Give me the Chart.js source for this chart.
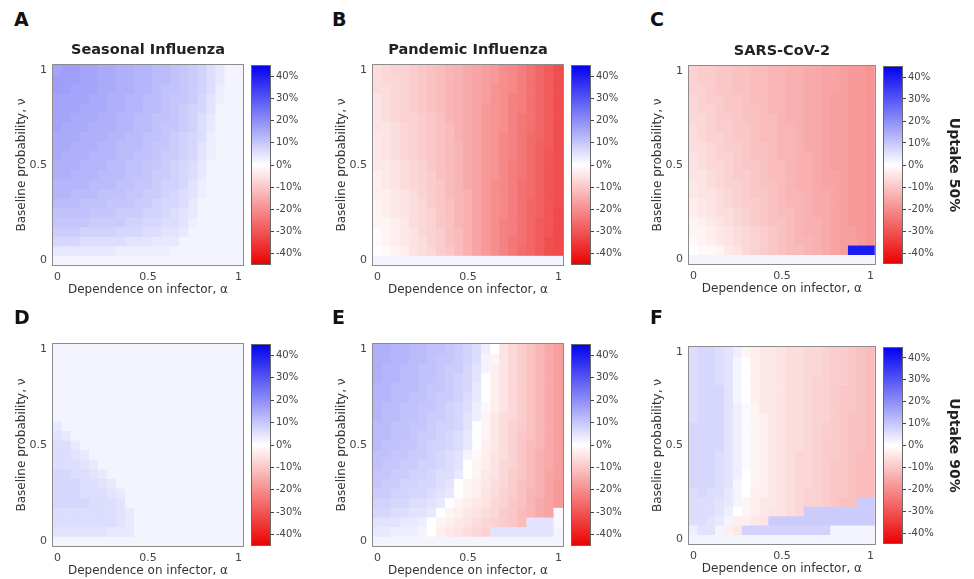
<!DOCTYPE html>
<html>
<head>
<meta charset="utf-8">
<script src="https://cdn.jsdelivr.net/npm/chart.js@4.4.1/dist/chart.umd.min.js"></script>
<style>
  body { margin: 0; background: #fff; }
  #fig { position: relative; width: 974px; height: 579px; font-family: 'DejaVu Sans', sans-serif; }
  #fig canvas { position: absolute; }
  .tag { position: absolute; font-weight: bold; font-size: 19px; line-height: 1; color: #111; }
</style>
</head>
<body>
<div id="fig"></div>
<script>
// Grid axes: dependence on infector (columns) and baseline probability (rows, top row first)
const alpha = [0, 0.05, 0.1, 0.15, 0.2, 0.25, 0.3, 0.35, 0.4, 0.45, 0.5, 0.55, 0.6, 0.65, 0.7, 0.75, 0.8, 0.85, 0.9, 0.95, 1];
const nu = [1, 0.95, 0.9, 0.85, 0.8, 0.75, 0.7, 0.65, 0.6, 0.55, 0.5, 0.45, 0.4, 0.35, 0.3, 0.25, 0.2, 0.15, 0.1, 0.05, 0];
const xTickValues = [0, 0.5, 1];
const yTickValues = [0, 0.5, 1];
const cbTicks = [-40, -30, -20, -10, 0, 10, 20, 30, 40];
const cbRange = [-45, 45];

// Change in outcome (%), rows from nu = 1 down to nu = 0
const seasonal50 = [
  [16,17,17,16,16,15,15,14,14,13,13,12,12,11,10, 9, 8, 6, 4, 2, 2],
  [17,17,17,16,16,15,15,14,14,13,13,12,12,11,10, 9, 8, 6, 4, 2, 2],
  [17,17,16,16,16,15,15,14,14,13,13,12,11,11,10, 9, 8, 6, 3, 2, 2],
  [16,16,16,16,15,15,14,14,13,13,12,12,11,10,10, 9, 7, 5, 3, 2, 2],
  [16,16,16,15,15,15,14,14,13,13,12,12,11,10, 9, 8, 7, 5, 2, 2, 2],
  [16,16,15,15,15,14,14,13,13,12,12,11,11,10, 9, 8, 6, 4, 2, 2, 2],
  [16,15,15,15,14,14,14,13,13,12,12,11,10,10, 9, 8, 6, 4, 2, 2, 2],
  [15,15,15,14,14,14,13,13,12,12,11,11,10, 9, 8, 7, 6, 3, 2, 2, 2],
  [15,15,14,14,14,13,13,12,12,12,11,10,10, 9, 8, 7, 5, 3, 2, 2, 2],
  [15,14,14,14,13,13,13,12,12,11,11,10, 9, 9, 8, 7, 5, 3, 2, 2, 2],
  [14,14,14,13,13,13,12,12,11,11,10,10, 9, 8, 7, 6, 4, 2, 2, 2, 2],
  [14,14,13,13,13,12,12,12,11,11,10, 9, 9, 8, 7, 6, 4, 2, 2, 2, 2],
  [13,13,13,13,12,12,12,11,11,10,10, 9, 8, 8, 7, 5, 3, 2, 2, 2, 2],
  [13,13,12,12,12,11,11,11,10,10, 9, 9, 8, 7, 6, 5, 3, 2, 2, 2, 2],
  [12,12,12,11,11,11,10,10,10, 9, 9, 8, 7, 7, 6, 4, 2, 2, 2, 2, 2],
  [11,11,11,11,10,10,10, 9, 9, 9, 8, 8, 7, 6, 5, 4, 2, 2, 2, 2, 2],
  [10,10,10,10, 9, 9, 9, 9, 8, 8, 7, 7, 6, 6, 5, 3, 2, 2, 2, 2, 2],
  [ 9, 9, 9, 8, 8, 8, 8, 7, 7, 7, 6, 6, 5, 5, 4, 2, 2, 2, 2, 2, 2],
  [ 7, 7, 7, 6, 6, 6, 6, 6, 5, 5, 5, 4, 4, 4, 2, 2, 2, 2, 2, 2, 2],
  [ 4, 4, 4, 4, 4, 4, 4, 3, 3, 3, 3, 3, 3, 2, 2, 2, 2, 2, 2, 2, 2],
  [ 2, 2, 2, 2, 2, 2, 2, 2, 2, 2, 2, 2, 2, 2, 2, 2, 2, 2, 2, 2, 2]
];
const pandemic50 = [
  [-6,-7,-8,-8,-9,-10,-11,-12,-13,-14,-15,-16,-17,-18,-20,-21,-23,-25,-27,-29,-31],
  [-6,-7,-7,-8,-9,-10,-11,-12,-13,-14,-15,-16,-17,-18,-20,-21,-23,-25,-27,-29,-31],
  [-6,-6,-7,-8,-9,-10,-11,-12,-13,-14,-15,-16,-17,-19,-20,-21,-23,-25,-27,-29,-31],
  [-5,-6,-7,-8,-9,-10,-11,-12,-13,-14,-15,-16,-17,-19,-20,-22,-23,-25,-27,-29,-31],
  [-5,-6,-7,-8,-9,-10,-11,-12,-13,-14,-15,-16,-18,-19,-20,-22,-23,-25,-27,-29,-31],
  [-5,-6,-7,-8,-8,-9,-10,-11,-13,-14,-15,-16,-18,-19,-20,-22,-24,-25,-27,-29,-31],
  [-5,-5,-6,-7,-8,-9,-10,-11,-12,-14,-15,-16,-18,-19,-20,-22,-24,-25,-27,-29,-31],
  [-4,-5,-6,-7,-8,-9,-10,-11,-12,-14,-15,-16,-18,-19,-21,-22,-24,-26,-27,-29,-31],
  [-4,-5,-6,-7,-8,-9,-10,-11,-12,-13,-15,-16,-18,-19,-21,-22,-24,-26,-28,-29,-31],
  [-4,-5,-6,-7,-8,-9,-10,-11,-12,-13,-15,-16,-18,-19,-21,-22,-24,-26,-28,-30,-31],
  [-4,-4,-5,-6,-7,-8,-10,-11,-12,-13,-15,-16,-18,-19,-21,-23,-24,-26,-28,-30,-31],
  [-3,-4,-5,-6,-7,-8,-9,-11,-12,-13,-15,-16,-18,-19,-21,-23,-24,-26,-28,-30,-31],
  [-3,-4,-5,-6,-7,-8,-9,-10,-12,-13,-15,-16,-18,-20,-21,-23,-25,-26,-28,-30,-31],
  [-3,-3,-4,-5,-6,-8,-9,-10,-12,-13,-14,-16,-18,-20,-21,-23,-25,-26,-28,-30,-31],
  [-2,-3,-4,-5,-6,-7,-9,-10,-11,-13,-14,-16,-18,-20,-21,-23,-25,-27,-28,-30,-31],
  [-2,-3,-4,-5,-6,-7,-8,-10,-11,-13,-14,-16,-18,-20,-21,-23,-25,-27,-28,-30,-32],
  [-2,-2,-3,-4,-6,-7,-8,-10,-11,-13,-14,-16,-18,-20,-22,-23,-25,-27,-29,-30,-32],
  [-1,-2,-3,-4,-5,-7,-8,-9,-11,-12,-14,-16,-18,-20,-22,-23,-25,-27,-29,-30,-32],
  [-1,-2,-3,-4,-5,-6,-8,-9,-11,-12,-14,-16,-18,-20,-22,-24,-25,-27,-29,-31,-32],
  [ 0,-1,-2,-3,-5,-6,-7,-9,-10,-12,-14,-16,-18,-20,-22,-24,-26,-27,-29,-31,-32],
  [ 2, 2, 2, 2, 2, 2, 2, 2, 2, 2, 2, 2, 2, 2, 2, 2, 2, 2, 2, 2, 2]
];
const sars50 = [
  [-8,-9,-9,-10,-10,-11,-11,-12,-12,-13,-13,-14,-14,-15,-15,-16,-16,-17,-18,-18,-19],
  [-8,-9,-9,-10,-10,-11,-11,-12,-12,-13,-13,-14,-14,-15,-15,-16,-16,-17,-18,-18,-19],
  [-8,-8,-9,-10,-10,-11,-11,-12,-12,-13,-13,-14,-14,-15,-15,-16,-16,-17,-18,-18,-19],
  [-7,-8,-9,-9,-10,-10,-11,-12,-12,-13,-13,-14,-14,-15,-15,-16,-17,-17,-18,-18,-19],
  [-7,-8,-8,-9,-10,-10,-11,-11,-12,-13,-13,-14,-14,-15,-15,-16,-17,-17,-18,-18,-19],
  [-7,-7,-8,-9,-9,-10,-11,-11,-12,-12,-13,-14,-14,-15,-15,-16,-17,-17,-18,-18,-19],
  [-6,-7,-8,-9,-9,-10,-10,-11,-12,-12,-13,-13,-14,-15,-15,-16,-17,-17,-18,-18,-19],
  [-6,-7,-8,-8,-9,-10,-10,-11,-12,-12,-13,-13,-14,-15,-15,-16,-17,-17,-18,-18,-19],
  [-6,-6,-7,-8,-9,-9,-10,-11,-11,-12,-13,-13,-14,-15,-15,-16,-17,-17,-18,-18,-19],
  [-5,-6,-7,-8,-8,-9,-10,-11,-11,-12,-13,-13,-14,-14,-15,-16,-17,-17,-18,-18,-19],
  [-5,-6,-7,-7,-8,-9,-10,-10,-11,-12,-12,-13,-14,-14,-15,-16,-17,-17,-18,-18,-19],
  [-5,-5,-6,-7,-8,-9,-9,-10,-11,-12,-12,-13,-14,-14,-15,-16,-16,-17,-18,-18,-19],
  [-4,-5,-6,-7,-8,-8,-9,-10,-11,-11,-12,-13,-14,-14,-15,-16,-16,-17,-18,-18,-19],
  [-4,-5,-5,-6,-7,-8,-9,-10,-10,-11,-12,-13,-13,-14,-15,-15,-16,-17,-18,-18,-19],
  [-3,-4,-5,-6,-7,-8,-9,-9,-10,-11,-12,-13,-13,-14,-15,-15,-16,-17,-18,-18,-19],
  [-3,-4,-5,-6,-6,-7,-8,-9,-10,-11,-12,-12,-13,-14,-15,-15,-16,-17,-18,-18,-19],
  [-2,-3,-4,-5,-6,-7,-8,-9,-10,-11,-11,-12,-13,-14,-14,-15,-16,-17,-18,-18,-19],
  [-2,-2,-3,-4,-5,-6,-7,-8,-9,-10,-11,-12,-13,-14,-14,-15,-16,-17,-17,-18,-19],
  [-1,-2,-3,-4,-5,-6,-7,-8,-9,-10,-11,-12,-13,-13,-14,-15,-16,-17,-17,-18,-19],
  [ 0,-1,-1,-2,-4,-5,-7,-8,-9,-10,-11,-12,-12,-13,-14,-15,-16,-17, 40, 40, 40],
  [ 2, 2, 2, 2, 2, 2, 2, 2, 2, 2, 2, 2, 2, 2, 2, 2, 2, 2, 2, 2, 2]
];
const seasonal90 = [
  [2,2,2,2,2,2,2,2,2,2,2,2,2,2,2,2,2,2,2,2,2],
  [2,2,2,2,2,2,2,2,2,2,2,2,2,2,2,2,2,2,2,2,2],
  [2,2,2,2,2,2,2,2,2,2,2,2,2,2,2,2,2,2,2,2,2],
  [2,2,2,2,2,2,2,2,2,2,2,2,2,2,2,2,2,2,2,2,2],
  [2,2,2,2,2,2,2,2,2,2,2,2,2,2,2,2,2,2,2,2,2],
  [2,2,2,2,2,2,2,2,2,2,2,2,2,2,2,2,2,2,2,2,2],
  [2,2,2,2,2,2,2,2,2,2,2,2,2,2,2,2,2,2,2,2,2],
  [2,2,2,2,2,2,2,2,2,2,2,2,2,2,2,2,2,2,2,2,2],
  [4,2,2,2,2,2,2,2,2,2,2,2,2,2,2,2,2,2,2,2,2],
  [5,4,2,2,2,2,2,2,2,2,2,2,2,2,2,2,2,2,2,2,2],
  [6,6,4,2,2,2,2,2,2,2,2,2,2,2,2,2,2,2,2,2,2],
  [6,6,5,4,2,2,2,2,2,2,2,2,2,2,2,2,2,2,2,2,2],
  [6,6,6,5,4,2,2,2,2,2,2,2,2,2,2,2,2,2,2,2,2],
  [7,7,6,6,5,4,2,2,2,2,2,2,2,2,2,2,2,2,2,2,2],
  [7,7,7,6,6,5,4,2,2,2,2,2,2,2,2,2,2,2,2,2,2],
  [7,7,7,6,6,6,5,4,2,2,2,2,2,2,2,2,2,2,2,2,2],
  [7,7,7,7,6,6,6,5,2,2,2,2,2,2,2,2,2,2,2,2,2],
  [6,6,6,6,6,6,6,5,4,2,2,2,2,2,2,2,2,2,2,2,2],
  [6,6,6,6,6,6,6,5,4,2,2,2,2,2,2,2,2,2,2,2,2],
  [5,5,5,5,5,5,4,4,4,2,2,2,2,2,2,2,2,2,2,2,2],
  [2,2,2,2,2,2,2,2,2,2,2,2,2,2,2,2,2,2,2,2,2]
];
const pandemic90 = [
  [14,14,13,13,12,12,11,11,10, 9, 8, 6, 3, 0,-5,-7,-9,-11,-13,-15,-17],
  [14,14,13,13,12,12,11,10,10, 9, 8, 6, 2,-2,-5,-7,-9,-11,-13,-15,-17],
  [14,13,13,12,12,11,11,10, 9, 9, 7, 5, 2,-3,-5,-7,-9,-11,-13,-15,-17],
  [14,13,13,12,12,11,11,10, 9, 8, 7, 5, 0,-3,-5,-7,-9,-11,-13,-15,-17],
  [13,13,12,12,12,11,10,10, 9, 8, 7, 4, 0,-3,-5,-7,-9,-11,-13,-15,-17],
  [13,13,12,12,11,11,10, 9, 9, 8, 6, 4, 0,-3,-5,-7,-9,-11,-13,-15,-17],
  [13,12,12,11,11,10,10, 9, 8, 7, 6, 3, 1,-3,-5,-7,-9,-11,-13,-15,-17],
  [13,12,12,11,11,10, 9, 9, 8, 7, 5, 3,-2,-4,-6,-7,-9,-11,-13,-15,-17],
  [12,12,11,11,10,10, 9, 8, 8, 7, 5, 0,-2,-4,-6,-8,-9,-11,-13,-15,-17],
  [12,12,11,11,10, 9, 9, 8, 7, 6, 4, 0,-2,-4,-6,-8,-10,-11,-13,-15,-17],
  [12,11,11,10,10, 9, 8, 8, 7, 6, 4, 0,-3,-4,-6,-8,-10,-12,-13,-15,-17],
  [11,11,10,10, 9, 9, 8, 7, 6, 5, 2,-1,-3,-5,-6,-8,-10,-12,-14,-15,-17],
  [11,10,10, 9, 9, 8, 8, 7, 6, 5, 0,-2,-3,-5,-7,-8,-10,-12,-14,-15,-17],
  [10,10, 9, 9, 8, 8, 7, 6, 6, 4, 0,-2,-4,-5,-7,-9,-10,-12,-14,-16,-17],
  [10, 9, 9, 8, 8, 7, 7, 6, 5, 0,-2,-3,-4,-6,-7,-9,-11,-12,-14,-16,-18],
  [ 9, 9, 8, 8, 7, 7, 6, 5, 4, 0,-2,-3,-5,-6,-8,-9,-11,-13,-14,-16,-18],
  [ 8, 8, 7, 7, 6, 6, 5, 4, 0,-2,-3,-4,-5,-7,-8,-10,-11,-13,-15,-16,-18],
  [ 7, 7, 6, 6, 5, 5, 4, 0,-2,-3,-4,-5,-6,-7,-9,-10,-12,-13,-15,-16, 1],
  [ 5, 5, 5, 4, 4, 3, 0,-2,-3,-4,-5,-6,-7,-8,-9,-10,-12, 5, 5, 5, 1],
  [ 4, 4, 3, 3, 3, 2, 0,-3,-4,-5,-6,-7,-8, 5, 5, 5, 5, 5, 5, 5, 2],
  [ 2, 2, 2, 2, 2, 2, 2, 2, 2, 2, 2, 2, 2, 2, 2, 2, 2, 2, 2, 2, 2]
];
const sars90 = [
  [6,7,7,6,5,3,-2,-3,-4,-4,-5,-6,-6,-7,-7,-8,-9,-9,-10,-11,-12],
  [6,7,7,6,5,2, 0,-3,-4,-4,-5,-6,-6,-7,-7,-8,-9,-9,-10,-11,-12],
  [6,7,7,6,5,2, 0,-3,-4,-4,-5,-6,-6,-7,-7,-8,-9,-9,-10,-11,-12],
  [6,7,7,6,5,2, 0,-3,-4,-4,-5,-6,-6,-7,-8,-8,-9,-9,-10,-11,-12],
  [6,7,7,7,5,2, 0,-3,-4,-4,-5,-6,-6,-7,-8,-8,-9,-10,-10,-11,-12],
  [6,7,7,7,5,2, 0,-3,-4,-4,-5,-6,-6,-7,-8,-8,-9,-10,-10,-11,-12],
  [6,7,7,7,5,3, 1,-2,-4,-4,-5,-6,-6,-7,-8,-8,-9,-10,-10,-11,-12],
  [6,7,7,7,5,3, 1,-2,-3,-4,-5,-6,-6,-7,-8,-8,-9,-10,-11,-11,-12],
  [7,7,7,7,5,3, 1,-2,-3,-4,-5,-6,-6,-7,-8,-9,-9,-10,-11,-11,-12],
  [7,7,7,7,5,3, 1,-2,-3,-4,-5,-6,-6,-7,-8,-9,-9,-10,-11,-11,-12],
  [7,7,7,7,5,3, 1,-2,-3,-4,-5,-6,-6,-7,-8,-9,-9,-10,-11,-11,-12],
  [7,7,7,6,5,3, 1,-2,-3,-4,-5,-6,-7,-7,-8,-9,-9,-10,-11,-12,-12],
  [7,7,7,6,5,3, 1,-2,-3,-4,-5,-6,-7,-7,-8,-9,-10,-10,-11,-12,-12],
  [7,7,7,6,5,3, 0,-2,-3,-4,-5,-6,-7,-7,-8,-9,-10,-10,-11,-12,-12],
  [7,7,7,6,5,2, 0,-2,-3,-4,-5,-6,-7,-7,-8,-9,-10,-10,-11,-12,-12],
  [6,7,6,6,4,2, 0,-3,-3,-4,-5,-6,-7,-8,-8,-9,-10,-10,-11,-12,-12],
  [6,6,6,5,4,2,-2,-3,-4,-4,-5,-6,-7,-8,-8,-9,-10,-11,-11, 9, 9],
  [6,6,6,5,3,0,-2,-3,-4,-5,-5,-6,-7, 9, 9, 9, 9, 9, 9, 9, 9],
  [6,6,5,4,2,-3,-3,-4,-5, 9, 9, 9, 9, 9, 9, 9, 9, 9, 9, 9, 9],
  [3,5,5,2,-3,-4, 8, 8, 8, 8, 8, 8, 8, 8, 8, 8, 2, 2, 2, 2, 2],
  [2,2,2,2,2,2, 2, 2, 2, 2, 2, 2, 2, 2, 2, 2, 2, 2, 2, 2, 2]
];

// Panel placement (plot box, colour bar left edge)
const panels = [
  { tag: 'A', title: 'Seasonal Influenza', grid: seasonal50, x: 53,  y: 65,  w: 191, h: 200, cbX: 251 },
  { tag: 'B', title: 'Pandemic Influenza', grid: pandemic50, x: 373, y: 65,  w: 191, h: 200, cbX: 571 },
  { tag: 'C', title: 'SARS-CoV-2',         grid: sars50,     x: 689, y: 66,  w: 187, h: 198, cbX: 883, side: 'Uptake 50%' },
  { tag: 'D', grid: seasonal90, x: 53,  y: 344, w: 191, h: 202, cbX: 251 },
  { tag: 'E', grid: pandemic90, x: 373, y: 344, w: 191, h: 202, cbX: 571 },
  { tag: 'F', grid: sars90,     x: 689, y: 347, w: 187, h: 197, cbX: 883, side: 'Uptake 90%' }
];
const tagPos = { A: [14, 10], B: [332, 10], C: [650, 10], D: [14, 308], E: [332, 308], F: [650, 308] };

Chart.defaults.font.family = "'DejaVu Sans', sans-serif";
Chart.defaults.color = '#333';

const fig = document.getElementById('fig');

function addCanvas(left, top, w, h) {
  const c = document.createElement('canvas');
  c.width = w;
  c.height = h;
  c.style.left = left + 'px';
  c.style.top = top + 'px';
  c.style.width = w + 'px';
  c.style.height = h + 'px';
  fig.appendChild(c);
  return c;
}

// white -> blue for gains, white -> red for losses
function cellColor(v) {
  const t = Math.min(Math.abs(v) / cbRange[1], 1);
  const fade = Math.round(255 * (1 - t));
  if (v >= 0) return `rgb(${fade},${fade},${Math.round(255 - 15 * t)})`;
  return `rgb(${Math.round(255 - 20 * t)},${fade},${fade})`;
}

const frame = {
  id: 'frame',
  afterDatasetsDraw(chart) {
    const { ctx, chartArea: a } = chart;
    ctx.save();
    ctx.strokeStyle = '#8c8c8c';
    ctx.lineWidth = 1;
    ctx.strokeRect(Math.round(a.left) - 0.5, Math.round(a.top) - 0.5, Math.round(a.width) + 1, Math.round(a.height) + 1);
    ctx.restore();
  }
};

const gradientBar = {
  id: 'gradientBar',
  beforeDraw(chart) {
    const { ctx, chartArea: a, scales: { y } } = chart;
    const top = y.getPixelForValue(cbRange[1]);
    const bottom = y.getPixelForValue(cbRange[0]);
    const g = ctx.createLinearGradient(0, top, 0, bottom);
    g.addColorStop(0, cellColor(cbRange[1]));
    g.addColorStop(0.5, cellColor(0));
    g.addColorStop(1, cellColor(cbRange[0]));
    ctx.save();
    ctx.fillStyle = g;
    ctx.fillRect(a.left, a.top, a.width, a.height);
    ctx.strokeStyle = '#666';
    ctx.lineWidth = 1;
    ctx.strokeRect(a.left + 0.5, a.top + 0.5, a.width - 1, a.height - 1);
    ctx.restore();
  }
};

function makeHeatmap(p) {
  const left = 53, top = 35, bottom = 40, right = 4;
  const canvas = addCanvas(p.x - left, p.y - top, p.w + left + right, p.h + top + bottom);
  const half = (nu[0] - nu[1]) / 2;
  const datasets = p.grid.map((row, r) => ({
    data: row.map(() => [nu[r] - half, nu[r] + half]),
    backgroundColor: row.map(cellColor),
    borderWidth: 0,
    barPercentage: 1,
    categoryPercentage: 1,
    grouped: false
  }));

  new Chart(canvas, {
    type: 'bar',
    data: { labels: alpha.map(String), datasets: datasets },
    options: {
      responsive: false,
      animation: false,
      events: [],
      layout: { padding: { top: p.title ? 0 : top, right: right, left: 0, bottom: 0 } },
      plugins: {
        legend: { display: false },
        tooltip: { enabled: false },
        title: {
          display: !!p.title,
          text: p.title,
          fullSize: false,
          color: '#222',
          font: { size: 14.5, weight: 'bold' },
          padding: { top: 12, bottom: top - 12 - 14.5 * 1.2 }
        }
      },
      scales: {
        x: {
          grid: { display: false, drawTicks: false },
          border: { display: false },
          ticks: {
            autoSkip: false,
            maxRotation: 0,
            padding: 6,
            color: '#444',
            font: { size: 11 },
            callback: (v, i) => xTickValues.includes(alpha[i]) ? String(alpha[i]) : ''
          },
          title: {
            display: true,
            text: 'Dependence on infector, α',
            color: '#333',
            font: { size: 12 },
            padding: { top: 0, bottom: 8 }
          },
          afterFit: s => { s.height = bottom; }
        },
        y: {
          min: nu[nu.length - 1] - half,
          max: nu[0] + half,
          grid: { display: false, drawTicks: false },
          border: { display: false },
          ticks: { padding: 6, color: '#444', font: { size: 11 }, callback: v => String(v) },
          afterBuildTicks: s => { s.ticks = yTickValues.map(v => ({ value: v })); },
          title: {
            display: true,
            text: 'Baseline probability, ν',
            color: '#333',
            font: { size: 12 },
            padding: { top: 15, bottom: 0 }
          },
          afterFit: s => { s.width = left; }
        }
      }
    },
    plugins: [frame]
  });
}

function makeColorbar(p) {
  const barW = 20, pad = 8;
  const w = p.side ? 974 - p.cbX : 62;
  const canvas = addCanvas(p.cbX, p.y - pad, w, p.h + 2 * pad);
  new Chart(canvas, {
    type: 'bar',
    data: { labels: [''], datasets: [] },
    options: {
      responsive: false,
      animation: false,
      events: [],
      layout: { padding: { top: pad, bottom: pad, left: 0, right: 0 } },
      plugins: { legend: { display: false }, tooltip: { enabled: false } },
      scales: {
        x: { display: false },
        y: {
          position: 'right',
          min: cbRange[0],
          max: cbRange[1],
          grid: { drawOnChartArea: false, tickLength: 3, color: '#444' },
          border: { display: false },
          ticks: { padding: 2, color: '#444', font: { size: 10 }, callback: v => v + '%' },
          afterBuildTicks: s => { s.ticks = cbTicks.map(v => ({ value: v })); },
          title: {
            display: !!p.side,
            text: p.side || '',
            color: '#222',
            font: { size: 14, weight: 'bold' },
            padding: { top: 12, bottom: 0 }
          },
          afterFit: s => { s.width = w - barW; }
        }
      }
    },
    plugins: [gradientBar]
  });
}

panels.forEach(p => {
  makeHeatmap(p);
  makeColorbar(p);
  const t = document.createElement('div');
  t.className = 'tag';
  t.textContent = p.tag;
  t.style.left = tagPos[p.tag][0] + 'px';
  t.style.top = tagPos[p.tag][1] + 'px';
  fig.appendChild(t);
});
</script>
</body>
</html>
